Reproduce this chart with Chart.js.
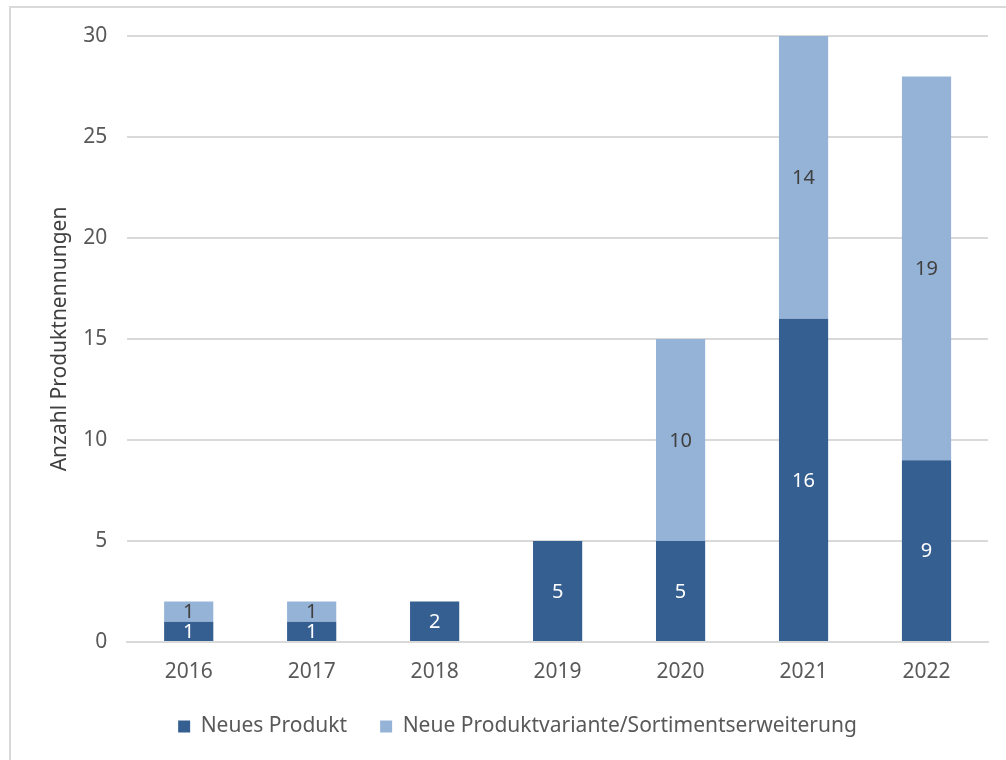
<!DOCTYPE html>
<html>
<head>
<meta charset="utf-8">
<script src="https://cdn.jsdelivr.net/npm/chart.js@4/dist/chart.umd.min.js"></script>
<style>
    html, body { margin: 0; padding: 0; background: #fff; overflow: hidden; }
    #frame { position: absolute; left: 9px; top: 6px; width: 1100px; height: 900px; border: 2px solid #d9d9d9; }
    #wrap { position: absolute; left: 0; top: 0; width: 1030px; height: 747px; }
</style>
</head>
<body>
<div id="frame"></div>
<div id="wrap"><canvas id="produktChart"></canvas></div>
<script>
// Data
const years = ['2016', '2017', '2018', '2019', '2020', '2021', '2022'];
const neuesProdukt = [1, 1, 2, 5, 5, 16, 9];
const neueVariante = [1, 1, 0, 0, 10, 14, 19];
const yTicks = [0, 5, 10, 15, 20, 25, 30];

const fontFamily = '"Noto Sans", "Open Sans", sans-serif';
const textColor = '#595959';

// Draw the value in the middle of each bar segment
const barLabels = {
    id: 'barLabels',
    afterDatasetsDraw(chart) {
        const ctx = chart.ctx;
        ctx.save();
        ctx.font = '20px ' + fontFamily;
        ctx.textAlign = 'center';
        ctx.textBaseline = 'middle';
        chart.data.datasets.forEach(function (ds, i) {
            const meta = chart.getDatasetMeta(i);
            meta.data.forEach(function (bar, j) {
                const v = ds.data[j];
                if (!v) return;
                const p = bar.getProps(['x', 'y', 'base'], true);
                ctx.fillStyle = ds.labelColor;
                ctx.fillText(String(v), p.x, (p.y + p.base) / 2 + 1);
            });
        });
        ctx.restore();
    }
};

const ctx = document.getElementById('produktChart').getContext('2d');
const produktChart = new Chart(ctx, {
    type: 'bar',
    data: {
        labels: years,
        datasets: [{
            label: 'Neues Produkt',
            data: neuesProdukt,
            backgroundColor: '#365f91',
            labelColor: '#ffffff'
        }, {
            label: 'Neue Produktvariante/Sortimentserweiterung',
            data: neueVariante,
            backgroundColor: '#95b3d7',
            labelColor: '#404040'
        }]
    },
    options: {
        responsive: true,
        maintainAspectRatio: false,
        animation: false,
        datasets: {
            bar: {
                categoryPercentage: 1,
                barPercentage: 0.4
            }
        },
        layout: {
            padding: { top: 36, left: 47, right: 42, bottom: 0 }
        },
        plugins: {
            legend: {
                position: 'bottom',
                labels: {
                    color: textColor,
                    font: { family: fontFamily, size: 21 },
                    boxWidth: 12,
                    boxHeight: 12,
                    padding: 33
                }
            },
            tooltip: { enabled: false }
        },
        scales: {
            x: {
                stacked: true,
                grid: { display: false, drawTicks: true, tickLength: 20 },
                border: { color: '#d9d9d9', width: 2 },
                ticks: {
                    color: textColor,
                    font: { family: fontFamily, size: 21, lineHeight: 1 },
                    padding: 0
                }
            },
            y: {
                stacked: true,
                min: 0,
                max: 30,
                afterBuildTicks: function (axis) {
                    axis.ticks = yTicks.map(function (v) { return { value: v }; });
                },
                grid: { color: '#d9d9d9', lineWidth: 2, drawTicks: false },
                border: { display: false },
                ticks: {
                    color: textColor,
                    font: { family: fontFamily, size: 21 },
                    padding: 20
                },
                title: {
                    display: true,
                    text: 'Anzahl Produktnennungen',
                    color: '#404040',
                    font: { family: fontFamily, size: 21 },
                    padding: { top: 0, bottom: -9 }
                }
            }
        }
    },
    plugins: [barLabels]
});
</script>
</body>
</html>
